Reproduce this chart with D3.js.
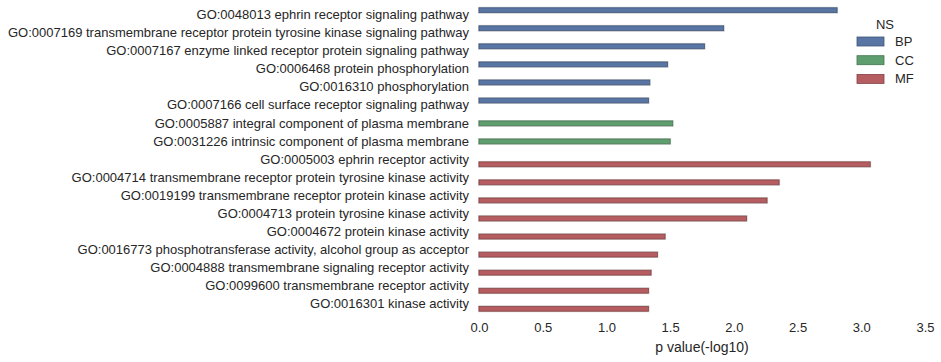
<!DOCTYPE html>
<meta charset="utf-8">
<head>
<style>
  body { margin: 0; background: #fff; }
  text { font-family: "Liberation Sans", Arial, sans-serif; fill: #262626; }
</style>
</head>
<body>
<svg id="chart"></svg>
<script src="https://d3js.org/d3.v7.min.js"></script>
<script>
// GO terms, top to bottom
var terms = [
  "GO:0048013 ephrin receptor signaling pathway",
  "GO:0007169 transmembrane receptor protein tyrosine kinase signaling pathway",
  "GO:0007167 enzyme linked receptor protein signaling pathway",
  "GO:0006468 protein phosphorylation",
  "GO:0016310 phosphorylation",
  "GO:0007166 cell surface receptor signaling pathway",
  "GO:0005887 integral component of plasma membrane",
  "GO:0031226 intrinsic component of plasma membrane",
  "GO:0005003 ephrin receptor activity",
  "GO:0004714 transmembrane receptor protein tyrosine kinase activity",
  "GO:0019199 transmembrane receptor protein kinase activity",
  "GO:0004713 protein tyrosine kinase activity",
  "GO:0004672 protein kinase activity",
  "GO:0016773 phosphotransferase activity, alcohol group as acceptor",
  "GO:0004888 transmembrane signaling receptor activity",
  "GO:0099600 transmembrane receptor activity",
  "GO:0016301 kinase activity"
];
var ns = ["BP", "BP", "BP", "BP", "BP", "BP", "CC", "CC",
          "MF", "MF", "MF", "MF", "MF", "MF", "MF", "MF", "MF"];
var pvals = [2.81, 1.92, 1.77, 1.48, 1.34, 1.33, 1.52, 1.50,
             3.07, 2.355, 2.26, 2.10, 1.46, 1.40, 1.35, 1.33, 1.33];
var groups = ["BP", "CC", "MF"];
var colors = ["#5975a4", "#5f9e6e", "#b55d60"];
var edges = ["#3f5579", "#43744f", "#854244"];
var xTicks = [0, 0.5, 1, 1.5, 2, 2.5, 3, 3.5];

var W = 941, H = 362;
var m = {left: 479, right: 925, top: 6, bottom: 313};

var svg = d3.select("#chart").attr("width", W).attr("height", H);

var x = d3.scaleLinear().domain([0, 3.5]).range([m.left, m.right]);
var y = d3.scaleBand().domain(terms).range([m.top, m.bottom]).paddingInner(0).paddingOuter(0);
var hue = d3.scaleBand().domain(groups).range([0.1, 0.9]);
var color = d3.scaleOrdinal().domain(groups).range(colors);
var edge = d3.scaleOrdinal().domain(groups).range(edges);

var data = terms.map(function(t, i) { return {term: t, ns: ns[i], p: pvals[i]}; });

var bars = svg.append("g");
// light halo round the bars
bars.selectAll(".halo")
  .data(data).enter().append("rect")
  .attr("x", x(0) - 0.5)
  .attr("y", function(d) { return y(d.term) + y.bandwidth() * hue(d.ns) - 0.5; })
  .attr("width", function(d) { return x(d.p) - x(0) + 1; })
  .attr("height", y.bandwidth() * hue.bandwidth() + 1)
  .attr("fill", "none")
  .attr("stroke", "#d0d0d0")
  .attr("stroke-width", 1);

bars.selectAll(".bar")
  .data(data).enter().append("rect")
  .attr("class", "bar")
  .attr("x", x(0))
  .attr("y", function(d) { return y(d.term) + y.bandwidth() * hue(d.ns); })
  .attr("width", function(d) { return x(d.p) - x(0); })
  .attr("height", y.bandwidth() * hue.bandwidth())
  .attr("fill", function(d) { return color(d.ns); })
  .attr("stroke", function(d) { return edge(d.ns); })
  .attr("stroke-width", 0.8);

// y axis labels
var yAxis = svg.append("g")
  .attr("transform", "translate(" + m.left + ",0)")
  .call(d3.axisLeft(y).tickSize(0).tickPadding(10));
yAxis.select(".domain").remove();
yAxis.selectAll("text").style("font-size", "13px").attr("fill", "#262626");

// x axis
var xAxis = svg.append("g")
  .attr("transform", "translate(0," + m.bottom + ")")
  .call(d3.axisBottom(x).tickValues(xTicks).tickFormat(d3.format(".1f")).tickSize(0).tickPadding(10));
xAxis.select(".domain").remove();
xAxis.selectAll("text").style("font-size", "13px").attr("fill", "#262626");

svg.append("text")
  .attr("x", (m.left + m.right) / 2)
  .attr("y", 352)
  .attr("text-anchor", "middle")
  .style("font-size", "14px")
  .text("p value(-log10)");

// legend
var lg = svg.append("g").attr("transform", "translate(857,0)");
lg.append("text").attr("x", 28).attr("y", 29).attr("text-anchor", "middle")
  .style("font-size", "13px").text("NS");
var item = lg.selectAll(".item").data(groups).enter().append("g")
  .attr("transform", function(d, i) { return "translate(0," + (37 + i * 18.7) + ")"; });
item.append("rect").attr("width", 27).attr("height", 9)
  .attr("fill", function(d) { return color(d); })
  .attr("stroke", function(d) { return edge(d); }).attr("stroke-width", 0.8);
item.append("text").attr("x", 38).attr("y", 9).style("font-size", "13px")
  .text(function(d) { return d; });
</script>
</body>
